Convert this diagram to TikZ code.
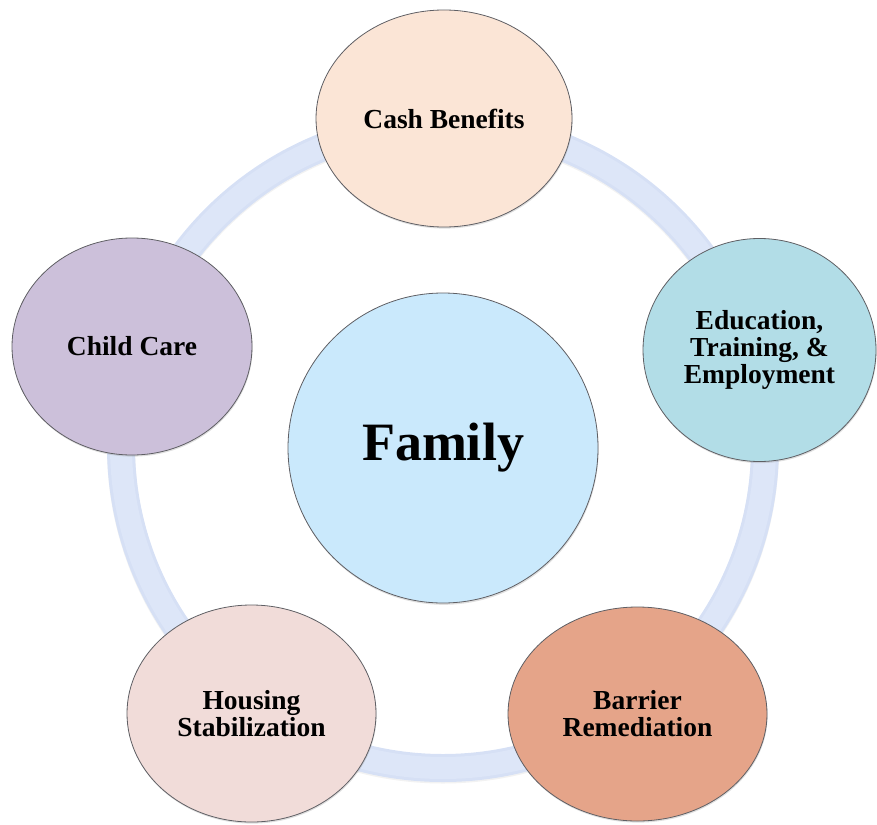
\documentclass[tikz,border=0pt]{standalone}
\usepackage{fontspec}
\setmainfont{Liberation Serif}
\usetikzlibrary{shapes.geometric,shadows}

\definecolor{ringbase}{RGB}{214,224,245}
\definecolor{ringcore}{RGB}{221,230,248}
\definecolor{cashfill}{RGB}{251,229,214}
\definecolor{edufill}{RGB}{178,221,231}
\definecolor{carefill}{RGB}{204,192,218}
\definecolor{familyfill}{RGB}{202,233,252}
\definecolor{housefill}{RGB}{241,220,217}
\definecolor{barrierfill}{RGB}{229,164,137}
\definecolor{edgegray}{RGB}{95,95,100}

\tikzset{
  bubble/.style={ellipse, draw=edgegray, line width=0.8pt, inner sep=0pt,
    align=center, font=\fontsize{27.5}{27}\selectfont\bfseries,
    drop shadow={shadow xshift=0.6pt, shadow yshift=-1.6pt, opacity=0.25}},
  hubcircle/.style={circle, draw=edgegray, line width=0.8pt, inner sep=0pt,
    fill=familyfill, minimum size=310pt,
    font=\fontsize{54}{54}\selectfont\bfseries,
    drop shadow={shadow xshift=0.6pt, shadow yshift=-1.8pt, opacity=0.25}},
  ringshade/.style={draw=black, opacity=0.05, line width=28pt},
  ringouter/.style={draw=ringbase, line width=28pt},
  ringinner/.style={draw=ringcore, line width=22pt}
}

\begin{document}
\begin{tikzpicture}[x=1pt, y=-1pt]
  \useasboundingbox (0,0) rectangle (877,824);

  % centre of the cycle
  \coordinate (hub) at (443,446);

  % the ring linking the services
  \draw[ringshade] ([yshift=-1.5pt]hub) circle [radius=322pt];
  \draw[ringouter] (hub) circle [radius=322pt];
  \draw[ringinner] (hub) circle [radius=322pt];

  % services around the family
  \node[bubble, fill=cashfill, minimum width=256pt, minimum height=217pt]
    (cash) at (444,118.5) {Cash Benefits};
  \node[bubble, fill=edufill, minimum width=233pt, minimum height=223pt]
    (edu) at (759.5,350) {Education,\\Training, \&\\Employment};
  \node[bubble, fill=carefill, minimum width=240pt, minimum height=217pt]
    (care) at (132,346.5) {Child Care};
  \node[bubble, fill=housefill, minimum width=249pt, minimum height=217pt]
    (house) at (251.5,713.5) {Housing\\Stabilization};
  \node[bubble, fill=barrierfill, minimum width=259pt, minimum height=214pt]
    (barrier) at (637.5,714) {Barrier\\Remediation};

  % the family at the centre
  \node[hubcircle] (family) at (443,448) {Family};
\end{tikzpicture}
\end{document}
